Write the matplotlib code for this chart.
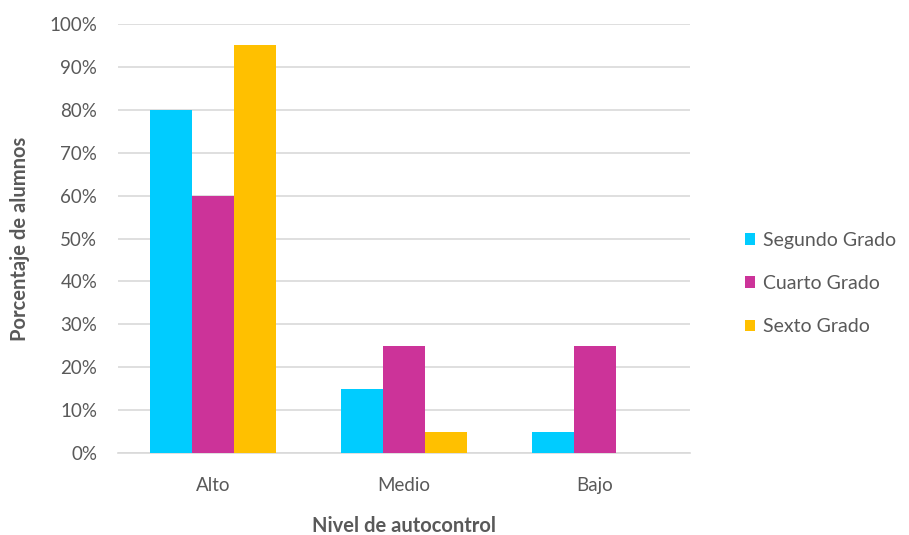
import numpy as np
import matplotlib.pyplot as plt
from matplotlib.ticker import PercentFormatter

niveles = ["Alto", "Medio", "Bajo"]
grados = ["Segundo Grado", "Cuarto Grado", "Sexto Grado"]
segundo = [80, 15, 5]
cuarto = [60, 25, 25]
sexto = [95, 5, 0]
colores = ["#00CCFF", "#CC3399", "#FFC000"]

plt.rcParams["font.family"] = ["Lato", "DejaVu Sans"]
gris = "#595959"

fig = plt.figure(figsize=(9.09, 5.35), dpi=100)
ax = fig.add_axes([0.1298, 0.1533, 0.6292, 0.8018])

x = np.arange(len(niveles))
ancho = 0.22
for i, (serie, nombre) in enumerate(zip([segundo, cuarto, sexto], grados)):
    ax.bar(x + (i - 1) * ancho, serie, ancho, color=colores[i], label=nombre, zorder=3)

ax.set_xlim(-0.5, 2.5)
ax.set_ylim(0, 100)
ax.set_yticks(range(0, 101, 10))
ax.yaxis.set_major_formatter(PercentFormatter(decimals=0))
ax.set_xticks(x)
ax.set_xticklabels(niveles)
ax.grid(axis="y", color="#D9D9D9", linewidth=1.2, zorder=0)
for lado in ["top", "right", "left"]:
    ax.spines[lado].set_visible(False)
ax.spines["bottom"].set_color("#D9D9D9")
ax.spines["bottom"].set_linewidth(1.2)
ax.tick_params(length=0, colors=gris, labelsize=13.5)
ax.tick_params(axis="x", pad=17)
ax.tick_params(axis="y", pad=15)

ax.set_xlabel("Nivel de autocontrol", fontsize=14.5, fontweight="bold", color=gris, labelpad=16)
ax.set_ylabel("Porcentaje de alumnos", fontsize=14.5, fontweight="bold", color=gris, labelpad=14)

ax.legend(loc="center left", bbox_to_anchor=(1.065, 0.395), frameon=False,
          fontsize=14, labelcolor=gris, handlelength=0.55, handleheight=0.55,
          handletextpad=0.4, labelspacing=1.36)

fig.savefig("out.png", dpi=100)
